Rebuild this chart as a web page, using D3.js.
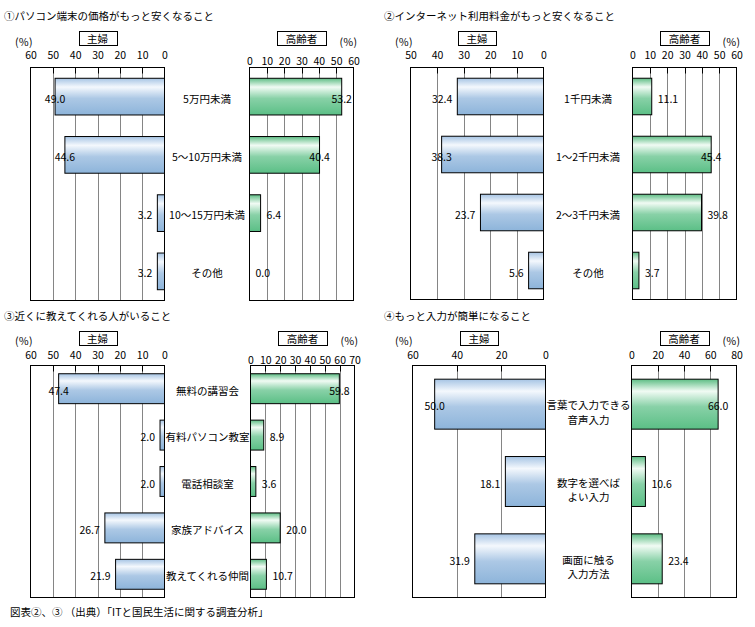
<!DOCTYPE html>
<html><head><meta charset="utf-8">
<script src="https://cdn.jsdelivr.net/npm/d3@7"></script>
<style>body{margin:0;background:#fff} text{font-family:"Noto Sans CJK JP","Noto Sans",sans-serif;fill:#000}</style>
</head><body>
<svg id="c" width="755" height="627"></svg>
<script>
// ---------- data ----------
const p1Title = "①パソコン端末の価格がもっと安くなること";
const p1Categories = ["5万円未満", "5～10万円未満", "10～15万円未満", "その他"];
const p1Housewife = [49.0, 44.6, 3.2, 3.2];
const p1Elderly = [53.2, 40.4, 6.4, 0.0];
const p1LeftTicks = [0, 10, 20, 30, 40, 50, 60];
const p1RightTicks = [0, 10, 20, 30, 40, 50, 60];

const p2Title = "②インターネット利用料金がもっと安くなること";
const p2Categories = ["1千円未満", "1～2千円未満", "2～3千円未満", "その他"];
const p2Housewife = [32.4, 38.3, 23.7, 5.6];
const p2Elderly = [11.1, 45.4, 39.8, 3.7];
const p2LeftTicks = [0, 10, 20, 30, 40, 50];
const p2RightTicks = [0, 10, 20, 30, 40, 50, 60];

const p3Title = "③近くに教えてくれる人がいること";
const p3Categories = ["無料の講習会", "有料パソコン教室", "電話相談室", "家族アドバイス", "教えてくれる仲間"];
const p3Housewife = [47.4, 2.0, 2.0, 26.7, 21.9];
const p3Elderly = [59.8, 8.9, 3.6, 20.0, 10.7];
const p3LeftTicks = [0, 10, 20, 30, 40, 50, 60];
const p3RightTicks = [0, 10, 20, 30, 40, 50, 60, 70];

const p4Title = "④もっと入力が簡単になること";
const p4Categories = ["言葉で入力できる\n音声入力", "数字を選べば\nよい入力", "画面に触る\n入力方法"];
const p4Housewife = [50.0, 18.1, 31.9];
const p4Elderly = [66.0, 10.6, 23.4];
const p4LeftTicks = [0, 20, 40, 60];
const p4RightTicks = [0, 20, 40, 60, 80];

const leftSeriesName = "主婦";
const rightSeriesName = "高齢者";
const unitLabel = "(％)";
const footerText = "図表②、③ （出典）「ITと国民生活に関する調査分析」";

// ---------- layout ----------
const panels = [
  {title: p1Title, cats: p1Categories, lv: p1Housewife, rv: p1Elderly, lt: p1LeftTicks, rt: p1RightTicks,
   ox: 0, oy: 0, L: [30.5, 164.5], R: [249.5, 353.5], top: 67.5, bottom: 300.5, pad: 0.37, rTickDy: 6.5, uy: 41},
  {title: p2Title, cats: p2Categories, lv: p2Housewife, rv: p2Elderly, lt: p2LeftTicks, rt: p2RightTicks,
   ox: 380, oy: 0, L: [410.5, 543.5], R: [632.5, 736.5], top: 67.5, bottom: 299.5, pad: 0.37, rTickDy: 0, uy: 41},
  {title: p3Title, cats: p3Categories, lv: p3Housewife, rv: p3Elderly, lt: p3LeftTicks, rt: p3RightTicks,
   ox: 0, oy: 300, L: [30.5, 164.5], R: [250.5, 354.5], top: 365.5, bottom: 597.5, pad: 0.355, rTickDy: 5, uy: 340},
  {title: p4Title, cats: p4Categories, lv: p4Housewife, rv: p4Elderly, lt: p4LeftTicks, rt: p4RightTicks,
   ox: 380, oy: 300, L: [412.5, 545.5], R: [631.5, 736.5], top: 365.5, bottom: 597.5, pad: 0.354, rTickDy: 0, uy: 340}
];

const svg = d3.select("#c");
const FS = "10.5px";
const defs = svg.append("defs");
function grad(id, edge, light, bottom) {
  const g = defs.append("linearGradient").attr("id", id).attr("x1", 0).attr("y1", 0).attr("x2", 0).attr("y2", 1);
  g.append("stop").attr("offset", "0%").attr("stop-color", edge);
  g.append("stop").attr("offset", "24%").attr("stop-color", light);
  g.append("stop").attr("offset", "55%").attr("stop-color", d3.interpolateRgb(light, bottom)(0.7));
  g.append("stop").attr("offset", "100%").attr("stop-color", bottom);
}
grad("gBlue", "#a6c4e4", "#f4f8fd", "#8db4da");
grad("gGreen", "#5dbd84", "#f1fbf4", "#5bbf86");

function drawPanel(p) {
  const g = svg.append("g");
  g.append("text").attr("x", p.ox + 4).attr("y", p.oy + 15).attr("dominant-baseline", "central")
    .style("font-size", FS).text(p.title);

  const y = d3.scaleBand().domain(p.cats).range([p.top, p.bottom])
    .paddingInner(p.pad).paddingOuter(p.pad / 2);

  const sides = [
    {vals: p.lv, ticks: p.lt, x: d3.scaleLinear().domain([0, d3.max(p.lt)]).range([p.L[1], p.L[0]]),
     frame: p.L, fill: "url(#gBlue)", name: leftSeriesName, dir: -1, tickDy: 0},
    {vals: p.rv, ticks: p.rt, x: d3.scaleLinear().domain([0, d3.max(p.rt)]).range([p.R[0], p.R[1]]),
     frame: p.R, fill: "url(#gGreen)", name: rightSeriesName, dir: 1, tickDy: p.rTickDy}
  ];

  sides.forEach(s => {
    const x = s.x;
    const maxV = d3.max(s.ticks);
    // gridlines
    g.append("g").selectAll("line").data(s.ticks.filter(t => t > 0 && t < maxV)).join("line")
      .attr("x1", d => Math.round(x(d)) + 0.5).attr("x2", d => Math.round(x(d)) + 0.5)
      .attr("y1", p.top).attr("y2", p.bottom).attr("stroke", "#858585").attr("stroke-width", 1);
    // inward tick marks
    const tg = g.append("g").attr("transform", `translate(0,${p.top})`)
      .call(d3.axisTop(x).tickValues(s.ticks.filter(t => t > 0 && t < maxV)).tickSize(-6).tickFormat(""));
    tg.select(".domain").remove();
    tg.selectAll(".tick line").attr("stroke", "#000");
    tg.selectAll(".tick").attr("transform", d => `translate(${Math.round(x(d)) + 0.5},0)`);
    // bars
    g.append("g").selectAll("rect").data(s.vals).join("rect")
      .attr("x", d => Math.min(x(0), x(d)))
      .attr("width", d => Math.abs(x(d) - x(0)))
      .attr("y", (d, i) => y(p.cats[i]))
      .attr("height", y.bandwidth())
      .attr("fill", s.fill).attr("stroke", "#000").attr("stroke-width", 1)
      .style("display", d => d > 0 ? null : "none");
    // frame
    g.append("rect").attr("x", s.frame[0]).attr("y", p.top)
      .attr("width", s.frame[1] - s.frame[0]).attr("height", p.bottom - p.top)
      .attr("fill", "none").attr("stroke", "#000").attr("stroke-width", 1);
    // tick labels
    const ag = g.append("g").attr("transform", `translate(0,${p.oy + 58.5 + s.tickDy})`)
      .call(d3.axisTop(x).tickValues(s.ticks).tickSize(0).tickPadding(0).tickFormat(d3.format("d")));
    ag.select(".domain").remove();
    ag.selectAll("text").attr("font-family", null).attr("font-size", null).style("font-size", FS).attr("fill", "#000");
    // value labels
    g.append("g").selectAll("text").data(s.vals).join("text")
      .each(function (d, i) {
        const end = x(d);
        const space = s.dir < 0 ? end - s.frame[0] : s.frame[1] - end;
        const t = d3.select(this);
        if (space < 34.7) {
          t.attr("x", end).attr("text-anchor", "middle");
        } else {
          t.attr("x", end + s.dir * (s.dir < 0 ? 5 : 6)).attr("text-anchor", s.dir < 0 ? "end" : "start");
        }
        t.attr("y", y(p.cats[i]) + y.bandwidth() / 2 + 1.5).attr("dominant-baseline", "central");
      })
      .style("font-size", FS).text(d => d3.format(".1f")(d));
    // header box
    const cx = (s.frame[0] + s.frame[1]) / 2;
    const bw = s.name.length * 11 + 16;
    g.append("rect").attr("x", Math.round(cx - bw / 2) + 0.5).attr("y", p.oy + 31.5)
      .attr("width", bw).attr("height", 14).attr("fill", "#fff").attr("stroke", "#000");
    g.append("text").attr("x", cx).attr("y", p.oy + 38.5).attr("text-anchor", "middle")
      .attr("dominant-baseline", "central").style("font-size", FS).text(s.name);
  });

  // unit labels
  g.append("text").attr("x", p.ox + 15).attr("y", p.uy).attr("dominant-baseline", "central")
    .style("font-size", FS).text(unitLabel);
  g.append("text").attr("x", p.R[1] - 14).attr("y", p.uy).attr("dominant-baseline", "central")
    .style("font-size", FS).text(unitLabel);

  // category labels
  const ccx = (p.L[1] + p.R[0]) / 2;
  g.append("g").selectAll("text").data(p.cats).join("text")
    .attr("x", ccx).attr("text-anchor", "middle").style("font-size", FS)
    .each(function (d) {
      const lines = d.split("\n");
      const t = d3.select(this);
      const cy = y(d) + y.bandwidth() / 2 + (lines.length > 1 ? 0.5 : 1.5);
      lines.forEach((ln, k) => {
        t.append("tspan").attr("x", ccx).attr("y", cy + k * 14.5).attr("dominant-baseline", "central").text(ln);
      });
    });
}

panels.forEach(drawPanel);

svg.append("text").attr("x", 10).attr("y", 611.7).attr("dominant-baseline", "central")
  .style("font-size", FS).text(footerText);
</script>
</body></html>
